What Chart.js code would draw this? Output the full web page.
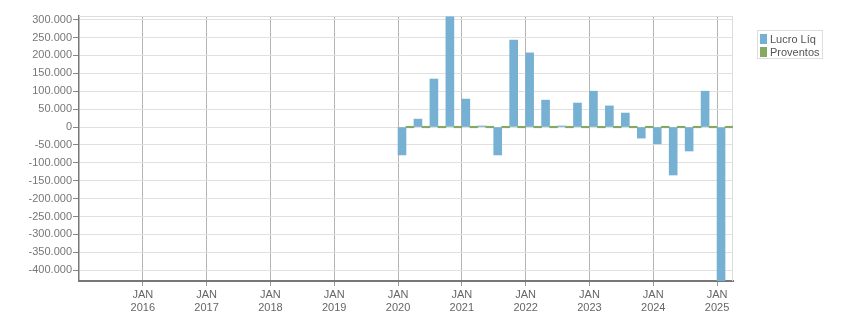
<!DOCTYPE html>
<html>
<head>
<meta charset="utf-8">
<script src="https://cdn.jsdelivr.net/npm/chart.js@4.4.1/dist/chart.umd.min.js"></script>
<style>
    body { margin: 0; background: #fff; }
    #wrap { position: relative; width: 851px; height: 313px; }
    #legend {
        position: absolute; left: 757px; top: 30px;
        width: 66px; height: 29px; box-sizing: border-box;
        border: 1px solid #ddd; padding: 1px 0 0 2px;
        font: 11px "Liberation Sans", Arial, sans-serif; color: #555;
    }
    .item { display: flex; align-items: center; height: 13px; white-space: nowrap; }
    .sw { width: 7px; height: 10px; margin-right: 3px; }
</style>
</head>
<body>
<div id="wrap">
    <canvas id="chart" width="851" height="313"></canvas>
    <div id="legend">
        <div class="item"><span class="sw" style="background:#76b0d3"></span>Lucro Líq</div>
        <div class="item"><span class="sw" style="background:#86a962"></span>Proventos</div>
    </div>
</div>
<script>
// Quarters (year, quarter)
const quarters = [
    '2020 T1', '2020 T2', '2020 T3', '2020 T4',
    '2021 T1', '2021 T2', '2021 T3', '2021 T4',
    '2022 T1', '2022 T2', '2022 T3', '2022 T4',
    '2023 T1', '2023 T2', '2023 T3', '2023 T4',
    '2024 T1', '2024 T2', '2024 T3', '2024 T4',
    '2025 T1'
];

// Series values
const lucroLiq = [
    -78000, 22000, 134000, 308000,
    78000, 3000, -78000, 243000,
    207000, 75000, 3000, 67000,
    100000, 59000, 39000, -31000,
    -47000, -134000, -67000, 100000,
    -432000
];
const proventos = [
    0, 0, 0, 0,
    0, 0, 0, 0,
    0, 0, 0, 0,
    0, 0, 0, 0,
    0, 0, 0, 0,
    0
];

// Tick labels
const yearTicks = [2016, 2017, 2018, 2019, 2020, 2021, 2022, 2023, 2024, 2025];
const yTicks = [-400000, -350000, -300000, -250000, -200000, -150000, -100000, -50000,
    0, 50000, 100000, 150000, 200000, 250000, 300000];

// quarter label -> position in years (middle of the quarter)
function quarterPos(label) {
    const parts = label.split(' T');
    return parseInt(parts[0]) + (parseInt(parts[1]) - 1) / 4 + 0.125;
}

function fmt(v) {
    const s = Math.abs(v).toString().replace(/\B(?=(\d{3})+(?!\d))/g, '.');
    return (v < 0 ? '-' : '') + s;
}

const font = { family: '"Liberation Sans", Arial, sans-serif', size: 11 };

// light border at top and right of the plot
const plotBorder = {
    id: 'plotBorder',
    beforeDatasetsDraw(chart) {
        const a = chart.chartArea;
        const ctx = chart.ctx;
        ctx.save();
        ctx.strokeStyle = '#dcdcdc';
        ctx.lineWidth = 1;
        ctx.beginPath();
        ctx.moveTo(a.left, a.top + 0.5);
        ctx.lineTo(a.right - 0.5, a.top + 0.5);
        ctx.lineTo(a.right - 0.5, a.bottom);
        ctx.stroke();
        ctx.restore();
    }
};

new Chart(document.getElementById('chart').getContext('2d'), {
    type: 'bar',
    data: {
        datasets: [{
            label: 'Lucro Líq',
            data: quarters.map((q, i) => ({ x: quarterPos(q), y: lucroLiq[i] })),
            backgroundColor: '#76b0d3',
            categoryPercentage: 1,
            barPercentage: 1
        }, {
            label: 'Proventos',
            data: quarters.map((q, i) => ({ x: quarterPos(q), y: proventos[i] })),
            backgroundColor: '#86a962',
            minBarLength: 1.5,
            categoryPercentage: 1,
            barPercentage: 1
        }]
    },
    options: {
        responsive: false,
        animation: false,
        devicePixelRatio: 1,
        layout: { padding: { left: 0, right: 118, top: 16, bottom: 0 } },
        plugins: {
            legend: { display: false },
            tooltip: { enabled: false }
        },
        scales: {
            x: {
                type: 'linear',
                min: 2015,
                max: 2025.25,
                offset: false,
                afterBuildTicks: scale => { scale.ticks = yearTicks.map(v => ({ value: v })); },
                afterFit: scale => { scale.height = 32; },
                ticks: {
                    font: font,
                    color: '#666',
                    padding: 2,
                    maxRotation: 0,
                    autoSkip: false,
                    callback: v => ['JAN', String(v)]
                },
                grid: {
                    offset: false,
                    color: '#b4b4b4',
                    tickColor: '#999',
                    tickLength: 5
                },
                border: { color: '#777', width: 2 }
            },
            y: {
                min: -430000,
                max: 310000,
                afterBuildTicks: scale => { scale.ticks = yTicks.map(v => ({ value: v })); },
                afterFit: scale => { scale.width = 79; },
                ticks: {
                    font: font,
                    color: '#777',
                    padding: 1,
                    callback: v => fmt(v)
                },
                grid: {
                    color: '#e0e0e0',
                    tickColor: '#888',
                    tickLength: 6
                },
                border: { color: '#777', width: 1.5 }
            }
        }
    },
    plugins: [plotBorder]
});
</script>
</body>
</html>
